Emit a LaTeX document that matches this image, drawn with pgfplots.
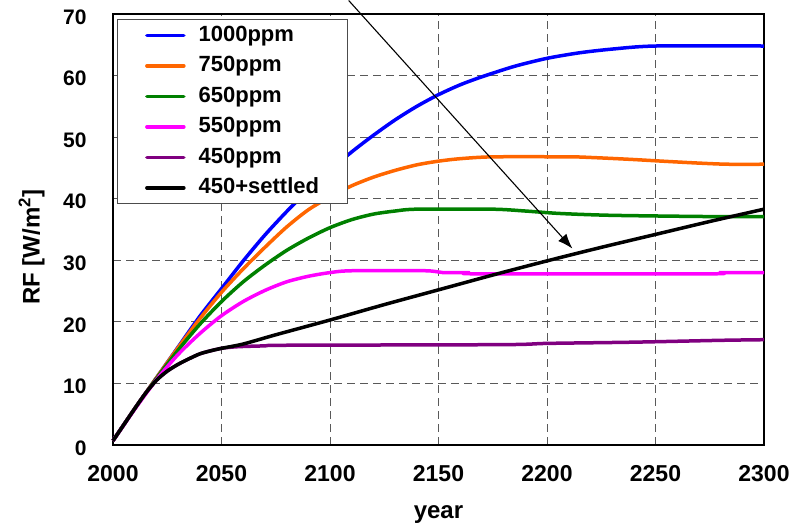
\documentclass[border=0pt]{standalone}
\usepackage{pgfplots}
\pgfplotsset{compat=1.18}
\usepackage{fontspec}
\setmainfont{Liberation Sans}
\usetikzlibrary{arrows.meta}

\definecolor{cBlue}{RGB}{0,0,255}
\definecolor{cOrange}{RGB}{255,102,0}
\definecolor{cGreen}{RGB}{0,128,0}
\definecolor{cMagenta}{RGB}{255,0,255}
\definecolor{cPurple}{RGB}{128,0,128}

\begin{document}
\begin{tikzpicture}
\begin{axis}[
  scale only axis, width=651pt, height=431pt,
  xmin=2000, xmax=2300, ymin=0, ymax=70,
  xtick={2000,2050,...,2300}, ytick={0,10,...,70},
  grid=major,
  major grid style={dash pattern=on 8pt off 5pt, line width=1pt, color=black!65},
  major tick length=0pt,
  axis line style={line width=1.4pt},
  clip=false,
  /pgf/number format/assume math mode=true,
  xticklabel style={font=\bfseries\fontsize{23}{23}\selectfont,
    /pgf/number format/1000 sep={}, yshift=-17pt},
  yticklabel style={font=\bfseries\fontsize{21}{21}\selectfont,
    xshift=-23pt, yshift=-3pt},
  xlabel={year}, ylabel={RF [W/m\textsuperscript{2}]},
  label style={font=\bfseries\fontsize{24}{24}\selectfont},
  xlabel style={at={(axis description cs:0.5,-0.162)}, anchor=center},
  ylabel style={at={(axis description cs:-0.125,0.459)}, anchor=center},
  every axis plot/.append style={line width=3.5pt, line join=round, smooth, tension=0.45},
  legend cell align=left,
  legend image code/.code={\draw[#1, line cap=round] (0pt,0pt) -- (37pt,0pt);},
  legend style={
    at={(axis description cs:0.0057,0.988)}, anchor=north west,
    draw=black!70, line width=0.8pt, fill=white,
    font=\bfseries\fontsize{22}{22}\selectfont,
    inner xsep=28pt, inner ysep=0.5pt, row sep=0pt,
    /tikz/every odd column/.style={column sep=13pt},
    /tikz/every even column/.style={nodes={inner xsep=0pt, inner ysep=5.5pt, text height=15.5pt, text depth=4pt}},
  },
]

% 1000 ppm stabilisation
\addplot[cBlue] coordinates {
 (2000,0.7) (2010,5.9) (2020,10.9) (2030,15.9) (2040,20.9) (2050,25.4)
 (2060,29.9) (2070,34.1) (2080,37.9) (2090,41.4) (2100,44.6) (2110,47.6)
 (2120,50.3) (2130,52.8) (2140,55.0) (2150,56.9) (2160,58.5) (2170,59.8)
 (2185,61.5) (2200,62.8) (2215,63.7) (2230,64.3) (2250,64.8) (2300,64.8)
};
\addlegendentry{1000ppm}

% 750 ppm
\addplot[cOrange] coordinates {
 (2000,0.7) (2010,5.9) (2020,10.9) (2030,15.8) (2040,20.5) (2050,24.8)
 (2060,28.6) (2070,32.1) (2080,35.4) (2090,38.2) (2100,40.3) (2110,42.1)
 (2120,43.5) (2130,44.6) (2140,45.5) (2150,46.1) (2160,46.5) (2175,46.8)
 (2210,46.8) (2220,46.7) (2238,46.4) (2253,46.1) (2269,45.8) (2283,45.6)
 (2300,45.6)
};
\addlegendentry{750ppm}

% 650 ppm
\addplot[cGreen] coordinates {
 (2000,0.7) (2010,5.9) (2020,10.8) (2030,15.4) (2040,19.6) (2050,23.3)
 (2060,26.5) (2070,29.2) (2080,31.6) (2090,33.6) (2100,35.3) (2110,36.6)
 (2120,37.5) (2130,38.0) (2140,38.3) (2175,38.3) (2190,38.0) (2206,37.6)
 (2230,37.3) (2275,37.1) (2300,37.1)
};
\addlegendentry{650ppm}

% 550 ppm
\addplot[cMagenta] coordinates {
 (2000,0.7) (2010,5.8) (2020,10.6) (2030,14.7) (2040,18.1) (2050,21.0)
 (2060,23.3) (2070,25.1) (2080,26.5) (2090,27.4) (2100,28.0) (2110,28.3)
 (2144,28.3) (2152,28.0) (2164,28.0) (2168,27.8) (2275,27.8) (2280,28.0)
 (2300,28.0)
};
\addlegendentry{550ppm}

% 450 ppm
\addplot[cPurple] coordinates {
 (2000,0.7) (2005,3.3) (2010,5.9) (2015,8.4) (2020,10.5) (2025,12.0)
 (2030,13.1) (2035,14.0) (2040,14.8) (2045,15.3) (2050,15.7) (2055,15.9)
 (2060,16.0) (2070,16.1) (2080,16.2) (2180,16.3) (2200,16.5) (2240,16.7)
 (2280,17.0) (2300,17.1)
};
\addlegendentry{450ppm}

% 450 ppm with settled emissions
\addplot[black] coordinates {
 (2000,0.7) (2005,3.3) (2010,5.9) (2015,8.4) (2020,10.5) (2025,12.0)
 (2030,13.1) (2035,14.0) (2040,14.8) (2045,15.3) (2050,15.7) (2060,16.4)
 (2075,17.9) (2100,20.3) (2125,22.8) (2150,25.2) (2175,27.6) (2200,29.9)
 (2225,32.1) (2250,34.2) (2275,36.3) (2300,38.3)
};
\addlegendentry{450+settled}

\draw[-{Latex[length=15pt,width=11pt]}, line width=1.1pt]
  (axis cs:2108.6,72.2) -- (axis cs:2211.7,31.9);

% page frame around the plot with its labels
\coordinate (frameSW) at (axis description cs:-0.17358,-0.19490);
\coordinate (frameNE) at (axis description cs:1.04147,1.03248);
\end{axis}
\pgfresetboundingbox
\path[use as bounding box] (frameSW) rectangle (frameNE);
\end{tikzpicture}
\end{document}
